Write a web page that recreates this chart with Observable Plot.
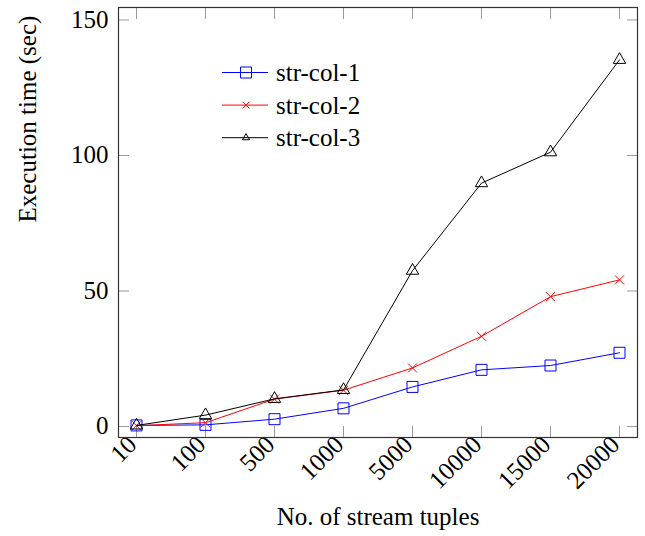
<!DOCTYPE html>
<html>
<head>
<meta charset="utf-8">
<script src="https://cdn.jsdelivr.net/npm/d3@7"></script>
<script src="https://cdn.jsdelivr.net/npm/@observablehq/plot@0.6"></script>
<style>
  html, body { margin: 0; padding: 0; background: #fff; }
  #chart { position: relative; width: 645px; height: 536px; }
</style>
</head>
<body>
<div id="chart"></div>
<script>
const categories = ["10", "100", "500", "1000", "5000", "10000", "15000", "20000"];
const seriesNames = ["str-col-1", "str-col-2", "str-col-3"];
const col1 = [0.4, 0.6, 2.7, 6.7, 14.6, 20.9, 22.5, 27.2];
const col2 = [0.3, 1.4, 10.1, 13.4, 21.6, 33.3, 47.9, 54.1];
const col3 = [0.4, 4.2, 10.2, 13.5, 57.5, 89.8, 101.2, 135.3];
const yTicks = [0, 50, 100, 150];
const xLabel = "No. of stream tuples";
const yLabel = "Execution time (sec)";

const seriesValues = [col1, col2, col3];
const colors = ["#0000ff", "#ff0000", "#000000"];
const symbols = ["square", "times", "triangle"];
const symbolR = [6.2, 4.2, 4.6];

const rows = seriesNames.map((name, k) =>
  categories.map((c, i) => ({ x: c, y: seriesValues[k][i], s: name }))
);

const marks = [];
rows.forEach((data, k) => {
  marks.push(Plot.line(data, { x: "x", y: "y", stroke: colors[k], strokeWidth: 1 }));
  marks.push(Plot.dot(data, { x: "x", y: "y", stroke: colors[k], fill: "none", symbol: () => symbols[k], r: symbolR[k], strokeWidth: 1 }));
});

const plot = Plot.plot({
  width: 645,
  height: 536,
  marginLeft: 118,
  marginRight: 8,
  marginTop: 7,
  marginBottom: 99,
  style: { fontFamily: "'Liberation Serif', 'Times New Roman', serif", fontSize: "25px", background: "#fff", color: "#000" },
  x: { type: "point", domain: categories, padding: 0, insetLeft: 15, insetRight: 15 },
  y: { domain: [-4.06, 154.6] },
  symbol: { type: "identity" },
  marks: [
    // inward tick marks on all four sides
    Plot.axisY({ anchor: "left", ticks: yTicks, tickSize: -11, tickFormat: () => "", stroke: "#999", label: null }),
    Plot.axisY({ anchor: "right", ticks: yTicks, tickSize: -11, tickFormat: () => "", stroke: "#999", label: null }),
    Plot.axisX({ anchor: "bottom", tickSize: -11, tickFormat: () => "", stroke: "#999", label: null }),
    Plot.axisX({ anchor: "top", tickSize: -11, tickFormat: () => "", stroke: "#999", label: null }),
    // tick labels
    Plot.axisY({ anchor: "left", ticks: yTicks, tickSize: 0, tickPadding: 10, label: null, fill: "#000" }),
    Plot.axisX({ anchor: "bottom", tickSize: 0, tickPadding: 3, dx: -4, tickRotate: -45, label: null, fill: "#000" }),
    ...marks,
    Plot.frame({ stroke: "#333", strokeWidth: 1.2 }),
    Plot.text([yLabel], { text: d => d, frameAnchor: "left", rotate: -90, dx: -91, fill: "#000" }),
    Plot.text([xLabel], { text: d => d, frameAnchor: "bottom", dy: 87, fill: "#000" })
  ]
});

document.getElementById("chart").appendChild(plot);

// legend (inside the plot area, upper left)
const svg = d3.select(plot);
const legend = svg.append("g").attr("class", "legend").attr("text-anchor", "start");
const legX0 = 222, legX1 = 268, legMark = 246, legText = 276, legY0 = 72.5, legStep = 32.6;
const legSizes = [121, 30, 22];
const legSymbols = [d3.symbolSquare, d3.symbolTimes, d3.symbolTriangle];
seriesNames.forEach((name, k) => {
  const y = legY0 + k * legStep;
  legend.append("line").attr("x1", legX0).attr("x2", legX1).attr("y1", y).attr("y2", y)
    .attr("stroke", colors[k]).attr("stroke-width", 1);
  legend.append("path").attr("d", d3.symbol(legSymbols[k], legSizes[k])())
    .attr("transform", `translate(${legMark},${y})`)
    .attr("fill", "none").attr("stroke", colors[k]).attr("stroke-width", 1);
  legend.append("text").attr("x", legText).attr("y", y).attr("dy", "0.35em")
    .attr("text-anchor", "start").attr("fill", "#000").text(name);
});
</script>
</body>
</html>
